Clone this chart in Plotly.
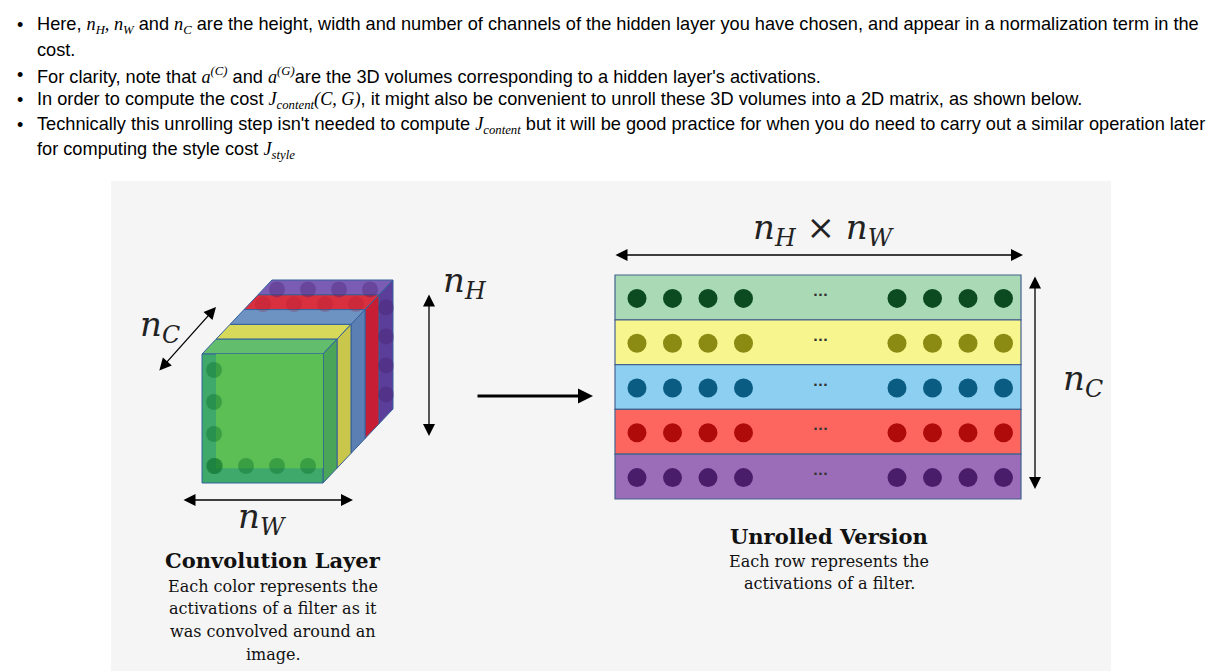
import plotly.graph_objects as go

# ---- data ----
filters = ["filter 1", "filter 2", "filter 3", "filter 4", "filter 5"]  # n_C channels, front to back
left_units = [1, 2, 3, 4]    # first activations kept in each unrolled row
right_units = [1, 2, 3, 4]   # last activations kept after the ellipsis
cube_units = [1, 2, 3, 4]    # activations visible along one cube edge


def m(s):
    # inline math in a serif italic face
    return '<span style="font-family:Liberation Serif"><i>' + s + '</i></span>'


text_lines = [
    ("Here, " + m("n<sub>H</sub>, n<sub>W</sub>") + " and " + m("n<sub>C</sub>")
     + " are the height, width and number of channels of the hidden layer you have chosen, and appear in a normalization term in the", True),
    ("cost.", False),
    ("For clarity, note that " + m("a<sup>(C)</sup>") + " and " + m("a<sup>(G)</sup>")
     + "are the 3D volumes corresponding to a hidden layer's activations.", True),
    ("In order to compute the cost " + m("J<sub>content</sub>(C, G)")
     + ", it might also be convenient to unroll these 3D volumes into a 2D matrix, as shown below.", True),
    ("Technically this unrolling step isn't needed to compute " + m("J<sub>content</sub>")
     + " but it will be good practice for when you do need to carry out a similar operation later", True),
    ("for computing the style cost " + m("J<sub>style</sub>"), False),
]
conv_caption = ["Each color represents the", "activations of a filter as it",
                "was convolved around an", "image."]
unrolled_caption = ["Each row represents the", "activations of a filter."]

# ---- styles ----
row_fill = ["#a9d9b5", "#f7f58e", "#8ccff1", "#fd665f", "#9b6cb7"]
dot_fill = ["#0c4a1f", "#8b8a12", "#0b5c82", "#b00b0b", "#4a1d6b"]
slab_top = ["#62bd6c", "#d6d95a", "#6d93c3", "#d9303f", "#7b5cb5"]
slab_side = ["#4aa558", "#c9c64c", "#5b7fb3", "#c61f35", "#5b3e9a"]
edge = "#34609c"
serif = "DejaVu Serif"

W, H = 1227, 671
fig = go.Figure()
shapes = []
ann = []

# panel behind the diagram
shapes.append(dict(type="rect", x0=111, y0=181, x1=1111, y1=H + 5,
                   fillcolor="#f5f5f5", line=dict(width=0), layer="below"))

# ---- cube (5 slabs along the channel axis) ----
fx0, fy0, fw, fh = 202, 354, 121, 129
dx, dy = 14, -14.8
for i in reversed(range(len(filters))):
    ax0, ay0 = fx0 + i * dx, fy0 + i * dy
    bx0, by0 = fx0 + (i + 1) * dx, fy0 + (i + 1) * dy
    top = f"M{ax0},{ay0} L{ax0 + fw},{ay0} L{bx0 + fw},{by0} L{bx0},{by0} Z"
    side = f"M{ax0 + fw},{ay0} L{bx0 + fw},{by0} L{bx0 + fw},{by0 + fh} L{ax0 + fw},{ay0 + fh} Z"
    shapes.append(dict(type="path", path=top, fillcolor=slab_top[i], layer="below",
                       line=dict(color=edge, width=1)))
    shapes.append(dict(type="path", path=side, fillcolor=slab_side[i], layer="below",
                       line=dict(color=edge, width=1)))
    if i == 0:
        shapes.append(dict(type="rect", x0=ax0, y0=ay0, x1=ax0 + fw, y1=ay0 + fh, layer="below",
                           fillcolor="#3fa96c", line=dict(color=edge, width=1)))
        shapes.append(dict(type="rect", x0=bx0, y0=ay0, x1=ax0 + fw, y1=by0 + fh, layer="below",
                           fillcolor="#5bbf56", line=dict(width=0)))

# faint activations seen through the cube faces
cx, cy, cc = [], [], []
for u in cube_units:
    cx.append(fx0 + 12); cy.append(fy0 + 16 + (u - 1) * 32); cc.append("rgba(10,110,40,0.4)")
    cx.append(fx0 + 13 + (u - 1) * 31); cy.append(fy0 + fh - 17); cc.append("rgba(10,110,40,0.4)")
    cx.append(fx0 + 4.5 * dx + 12 + (u - 1) * 31); cy.append(fy0 + 4.5 * dy + 2); cc.append("rgba(70,30,110,0.35)")
    cx.append(fx0 + fw + 4.5 * dx); cy.append(fy0 + 4.5 * dy + 20 + (u - 1) * 29); cc.append("rgba(70,30,110,0.35)")
    cx.append(fx0 + 3.5 * dx + 12 + (u - 1) * 31); cy.append(fy0 + 3.5 * dy + 2); cc.append("rgba(160,20,40,0.22)")
fig.add_trace(go.Scatter(x=cx, y=cy, mode="markers", hoverinfo="skip",
                         marker=dict(size=16, color=cc, line=dict(width=0))))

# ---- unrolled matrix ----
mx0, mx1, my0, rh = 615, 1021, 275, 44.8
lstart, rstart, step = 637, 897, 35.5
for i, name in enumerate(filters):
    shapes.append(dict(type="rect", x0=mx0, x1=mx1, y0=my0 + i * rh, y1=my0 + (i + 1) * rh,
                       fillcolor=row_fill[i], layer="below", line=dict(color="#45628f", width=1.2)))
    xs = [lstart + (u - 1) * step for u in left_units] + [rstart + (u - 1) * step for u in right_units]
    ys = [my0 + (i + 0.5) * rh + 1] * len(xs)
    fig.add_trace(go.Scatter(x=xs, y=ys, mode="markers", name=name, hoverinfo="skip",
                             marker=dict(size=19, color=dot_fill[i], line=dict(width=0))))
    ann.append(dict(x=820, y=my0 + (i + 0.5) * rh - 3, text="<b>···</b>", showarrow=False,
                    font=dict(size=13, color="#333", family="DejaVu Sans")))


# ---- arrows ----
def arrow(x0, y0, x1, y1, w=1.3, size=1.85, both=True):
    ann.append(dict(x=x1, y=y1, ax=x0, ay=y0, xref="x", yref="y", axref="x", ayref="y",
                    text="", showarrow=True, arrowhead=2, startarrowhead=2, arrowsize=size,
                    startarrowsize=size, arrowwidth=w, arrowcolor="#000",
                    arrowside="end+start" if both else "end", standoff=0, startstandoff=0))


arrow(158, 372, 216, 307)                 # n_C along depth
arrow(429, 293, 429, 436)                 # n_H
arrow(182, 500, 353, 500)                 # n_W
arrow(476, 396, 593, 396, w=3, size=1.0, both=False)
arrow(614, 255, 1023, 255)                # n_H x n_W
arrow(1035, 275, 1035, 489)               # n_C rows

# ---- labels ----
mathfont = dict(family=serif, size=34, color="#222")
for x, y, t in [(160, 326, "<i>n<sub>C</sub></i>"), (465, 282, "<i>n<sub>H</sub></i>"),
                (262, 518, "<i>n<sub>W</sub></i>"), (1083, 380, "<i>n<sub>C</sub></i>"),
                (824, 229, "<i>n<sub>H</sub></i> × <i>n<sub>W</sub></i>")]:
    ann.append(dict(x=x, y=y, text=t, showarrow=False, font=mathfont))

ann.append(dict(x=273, y=560, text="<b>Convolution Layer</b>", showarrow=False,
                font=dict(family=serif, size=21, color="#111")))
for k, t in enumerate(conv_caption):
    ann.append(dict(x=273, y=586 + k * 22.8, text=t, showarrow=False,
                    font=dict(family=serif, size=16, color="#111")))
ann.append(dict(x=829, y=536, text="<b>Unrolled Version</b>", showarrow=False,
                font=dict(family=serif, size=21, color="#111")))
for k, t in enumerate(unrolled_caption):
    ann.append(dict(x=829, y=561 + k * 22.8, text=t, showarrow=False,
                    font=dict(family=serif, size=16, color="#111")))

# ---- text above the figure ----
for k, (t, bullet) in enumerate(text_lines):
    y = 25 + k * 25.1
    ann.append(dict(x=35, y=y, text=t, showarrow=False, xanchor="left", yanchor="middle",
                    font=dict(family="Liberation Sans", size=18.2, color="#000")))
    if bullet:
        ann.append(dict(x=15, y=y, text="•", showarrow=False, xanchor="left", yanchor="middle",
                        font=dict(family="Liberation Sans", size=18, color="#000")))

for a in ann:
    a.setdefault("xref", "x")
    a.setdefault("yref", "y")

fig.update_layout(
    width=W, height=H, margin=dict(l=0, r=0, t=0, b=0),
    paper_bgcolor="white", plot_bgcolor="white", showlegend=False,
    xaxis=dict(range=[0, W], visible=False, fixedrange=True),
    yaxis=dict(range=[H, 0], visible=False, fixedrange=True),
    shapes=shapes, annotations=ann,
)

fig.write_html("out.html", config={"displayModeBar": False},
               post_script="document.body.style.margin='0';")
